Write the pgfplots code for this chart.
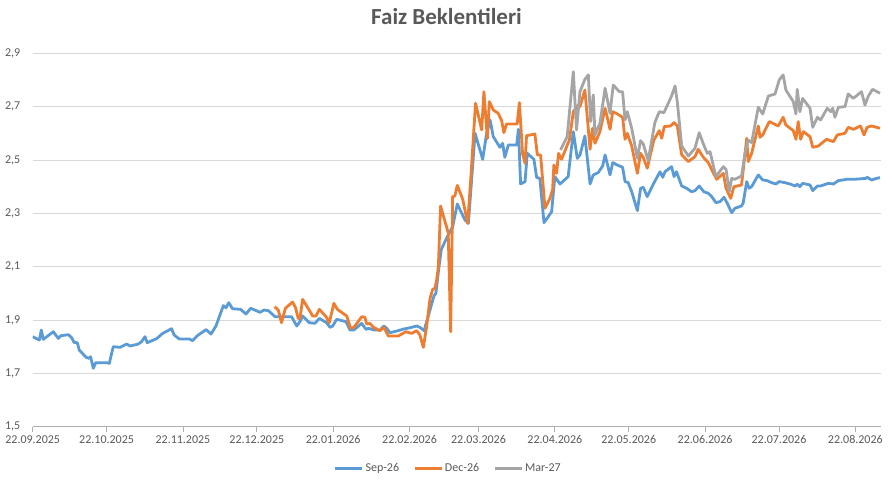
\documentclass[border=0pt]{standalone}
\usepackage{pgfplots}
\pgfplotsset{compat=1.18}
\usepackage{fontspec}
\setmainfont{Carlito}
\definecolor{cblue}{HTML}{5B9BD5}
\definecolor{corange}{HTML}{ED7D31}
\definecolor{cgray}{HTML}{A5A5A5}
\definecolor{ctext}{HTML}{595959}
\definecolor{cgrid}{HTML}{D9D9D9}
\begin{document}
\begin{tikzpicture}
\path[use as bounding box] (-32.7pt,-58.3pt) rectangle (859.3pt,426.7pt);
\begin{axis}[
  at={(0,0)}, anchor=south west,
  scale only axis, width=848pt, height=373.4pt,
  xmin=0, xmax=344.3, ymin=1.5, ymax=2.9,
  ytick={1.5,1.7,...,2.91},
  xtick={0,30,61,91,122,153,181,212,242,273,303,334},
  xticklabels={22.09.2025,22.10.2025,22.11.2025,22.12.2025,22.01.2026,22.02.2026,22.03.2026,22.04.2026,22.05.2026,22.06.2026,22.07.2026,22.08.2026},
  axis x line*=bottom, axis y line*=left,
  x axis line style={draw=cgrid!80!black!100, line width=0.75pt},
  y axis line style={draw=none},
  ymajorgrids, grid style={draw=cgrid, line width=0.75pt},
  tick align=outside, major tick length=5pt,
  xtick style={draw=cgrid!80!black, line width=0.75pt},
  ytick style={draw=none},
  /pgf/number format/assume math mode=true,
  /pgf/number format/use comma, /pgf/number format/fixed,
  /pgf/number format/fixed zerofill, /pgf/number format/precision=1,
  tick label style={font=\fontsize{12}{14}\selectfont, text=ctext},
  yticklabel style={xshift=-4pt},
  xticklabel style={yshift=0pt},
  title={Faiz Beklentileri},
  title style={at={(0.488,1)}, anchor=center, yshift=31pt, font=\bfseries\fontsize{23}{26}\selectfont, text=ctext},
  legend columns=3,
  legend style={at={(0.49,0)}, anchor=center, yshift=-41.6pt, draw=none, fill=none,
    font=\fontsize{12}{14}\selectfont, text=ctext,
    /tikz/every even column/.append style={column sep=12pt}},
  legend image code/.code={\draw[#1] (0pt,0pt) -- (27pt,0pt);},
  every axis plot/.append style={line width=2.8pt, line join=round},
]
\addplot[cblue] coordinates {
(0,1.8375)(2.7,1.825)(3.5,1.8625)(4.3,1.8275)(8.4,1.856)(10.4,1.831)(11.4,1.841)(14.5,1.845)(15.8,1.834)(16.8,1.816)(18.1,1.815)(18.9,1.7875)(21.7,1.76)(23,1.756)(23.5,1.7625)(24.6,1.719)(25.6,1.74)(30,1.74)(31.1,1.7375)(32.7,1.80)(35.5,1.7975)(38.2,1.81)(39.5,1.8025)(42.9,1.81)(44.2,1.819)(45.6,1.8375)(46.5,1.815)(50.3,1.83)(52.8,1.85)(56.4,1.8675)(57.4,1.844)(59.5,1.829)(63.6,1.829)(64.9,1.8225)(66.8,1.841)(70.4,1.864)(72.4,1.8475)(74.4,1.8775)(77.4,1.954)(78.5,1.946)(79.6,1.965)(81.1,1.9425)(84.4,1.94)(86.6,1.9225)(88.5,1.944)(92.3,1.929)(93.9,1.9375)(95.7,1.935)(98.4,1.9125)(101,1.912)(105.1,1.9125)(107.2,1.8775)(108.5,1.894)(109.6,1.915)(112.3,1.89)(114.6,1.8875)(116.4,1.906)(119.3,1.89)(120.7,1.8725)(121.8,1.8775)(123.4,1.9025)(127.2,1.894)(128.8,1.8625)(130.4,1.8625)(133.6,1.8875)(135.3,1.865)(136.3,1.869)(138.6,1.8625)(141,1.8625)(142.6,1.8775)(143.7,1.869)(145.1,1.8525)(148.4,1.86)(150.5,1.866)(153.2,1.871)(155.9,1.8775)(157.2,1.8725)(158.9,1.86)(161,1.9275)(162.9,1.99)(163.7,2.0)(164.8,2.0875)(165.9,2.165)(168,2.206)(170.5,2.25)(172.4,2.335)(175.5,2.275)(176.9,2.2625)(179.6,2.6)(182.7,2.5025)(184.3,2.6)(185.7,2.65)(187,2.5875)(189.7,2.5475)(190.8,2.5625)(191.7,2.51)(193.1,2.556)(196.5,2.556)(197.2,2.615)(198.1,2.41)(199.9,2.419)(200.8,2.525)(203.5,2.5025)(204.6,2.435)(205.9,2.431)(207.6,2.265)(210.7,2.306)(212,2.4375)(214.1,2.41)(217.4,2.4375)(219.5,2.606)(221.1,2.506)(222.2,2.519)(224.2,2.59)(226.3,2.41)(227.6,2.444)(229.6,2.4525)(231.4,2.4775)(232.4,2.519)(234.4,2.444)(235.5,2.49)(237.4,2.481)(239.5,2.4725)(240.5,2.419)(241.8,2.415)(243.2,2.381)(245.5,2.31)(246.8,2.394)(247.9,2.3975)(249.5,2.3625)(252,2.41)(254.7,2.456)(255.8,2.435)(256.7,2.456)(259.4,2.475)(260.4,2.4375)(261.4,2.456)(263.5,2.4025)(265.5,2.394)(267.5,2.381)(268.9,2.385)(270.6,2.4025)(272.5,2.381)(274.3,2.375)(275.7,2.3625)(277.4,2.34)(279.1,2.344)(280.7,2.36)(282,2.3375)(283.8,2.3025)(285.1,2.319)(287.8,2.3275)(288.5,2.34)(289.9,2.419)(290.9,2.394)(291.9,2.4)(294.6,2.444)(296.4,2.425)(298.2,2.4225)(300,2.415)(301.8,2.41)(303.1,2.419)(305.4,2.415)(307.5,2.41)(309.5,2.4025)(310.4,2.409)(311.5,2.4)(312.6,2.4125)(315.6,2.4063)(316.7,2.385)(318.6,2.4025)(319.9,2.4025)(323,2.4125)(325.1,2.41)(327.1,2.4225)(330.5,2.4275)(333.4,2.4275)(338.3,2.431)(338.8,2.435)(340.6,2.425)(342.6,2.431)(344,2.434)
};
\addlegendentry{Sep-26}
\addplot[corange] coordinates {
(98.2,1.95)(99.7,1.9375)(101,1.89)(102.6,1.944)(105.5,1.9675)(106.7,1.947)(107.8,1.906)(108.5,1.906)(109.6,1.9775)(113.7,1.915)(115,1.915)(116.4,1.94)(119.1,1.9125)(120.4,1.89)(122.3,1.9625)(123.7,1.94)(127.5,1.915)(129.1,1.869)(130.4,1.8725)(133.6,1.9125)(134.9,1.91)(135.6,1.885)(136.9,1.8875)(138.3,1.8725)(141,1.86)(142.6,1.8725)(144.4,1.84)(148.4,1.84)(151.5,1.856)(153.9,1.85)(155.9,1.86)(157.2,1.844)(158.6,1.7975)(159.9,1.8725)(161.3,1.98)(162.4,2.015)(163.3,2.019)(164,2.05)(164.7,2.1)(165.6,2.3275)(168.7,2.2275)(169.7,1.856)(170.5,2.3625)(171.4,2.365)(172.4,2.405)(174.6,2.3525)(176.6,2.2625)(178,2.45)(179.8,2.7125)(182.3,2.6125)(183.2,2.756)(184.6,2.58)(185.4,2.719)(187,2.6875)(189,2.675)(190.4,2.6475)(191.3,2.6025)(192.4,2.635)(196.7,2.635)(197.6,2.715)(198.9,2.5225)(199.9,2.4875)(200.5,2.591)(203.9,2.5975)(204.9,2.519)(206.2,2.519)(208,2.319)(210,2.356)(211.1,2.39)(211.6,2.481)(212.7,2.45)(213.5,2.525)(214.7,2.5025)(217.9,2.575)(219.5,2.681)(221.5,2.706)(222.2,2.7)(224.2,2.7625)(226.3,2.54)(227.3,2.619)(228.3,2.5625)(230.3,2.6063)(232.4,2.694)(234.4,2.615)(235.5,2.681)(237.4,2.6725)(239.5,2.66)(240.5,2.5775)(241.4,2.6)(243.2,2.5525)(245.5,2.45)(246.8,2.525)(247.9,2.51)(249.5,2.469)(252.2,2.575)(254.4,2.61)(255.4,2.5813)(256.4,2.625)(259,2.6275)(260.4,2.64)(261.7,2.6275)(263.5,2.519)(266.2,2.494)(268.9,2.5125)(270.2,2.54)(272.3,2.51)(274.3,2.49)(276.3,2.4525)(277.7,2.4275)(280.4,2.45)(281.5,2.394)(283.4,2.356)(284.7,2.4)(287.8,2.406)(289.9,2.581)(290.5,2.494)(291.9,2.525)(294.6,2.6275)(295.3,2.585)(296.4,2.594)(299.1,2.644)(302.7,2.6275)(304.7,2.66)(305.8,2.6313)(308.8,2.61)(309.9,2.5775)(310.8,2.644)(311.8,2.5775)(312.9,2.6063)(315.6,2.5875)(316.7,2.5475)(319,2.5525)(322.3,2.5775)(325.1,2.569)(326.7,2.594)(329.8,2.6)(331.1,2.6225)(333.2,2.615)(336.1,2.6275)(337.5,2.594)(338.8,2.6225)(340.6,2.6275)(344,2.619)
};
\addlegendentry{Dec-26}
\addplot[cgray] coordinates {
(214.3,2.5375)(217,2.5875)(219.5,2.831)(220.8,2.6125)(222.2,2.756)(224.2,2.8025)(225.6,2.819)(226.5,2.644)(227.6,2.744)(228.3,2.594)(230.3,2.6375)(232.4,2.769)(234.4,2.675)(235.7,2.781)(238.2,2.756)(239.5,2.756)(240.5,2.65)(241.4,2.681)(243.2,2.619)(245.5,2.5063)(246.8,2.5725)(247.9,2.56)(249.9,2.4975)(252.6,2.64)(254.4,2.681)(256.3,2.6775)(259.4,2.74)(260.8,2.7775)(261.7,2.719)(263.5,2.5525)(266.2,2.515)(268.9,2.5438)(270.6,2.6025)(272.3,2.56)(273.9,2.525)(275,2.531)(277.4,2.4375)(280.4,2.475)(281.5,2.465)(282.8,2.381)(283.8,2.431)(285.1,2.4275)(287.8,2.44)(289.2,2.525)(290.5,2.575)(291.9,2.565)(294.6,2.6975)(296.4,2.6725)(298.7,2.74)(301.4,2.7475)(303.1,2.8)(304.7,2.819)(305.8,2.7625)(308.8,2.719)(309.9,2.6725)(310.4,2.765)(311.5,2.681)(312.6,2.731)(315.6,2.694)(316.7,2.6225)(318.6,2.66)(319.9,2.65)(322.6,2.694)(324,2.681)(324.8,2.694)(325.7,2.66)(327.1,2.6975)(329.8,2.7)(331.1,2.7475)(333.2,2.731)(336.5,2.756)(337.9,2.706)(339.3,2.74)(341,2.765)(344,2.75)
};
\addlegendentry{Mar-27}
\end{axis}
\end{tikzpicture}
\end{document}
